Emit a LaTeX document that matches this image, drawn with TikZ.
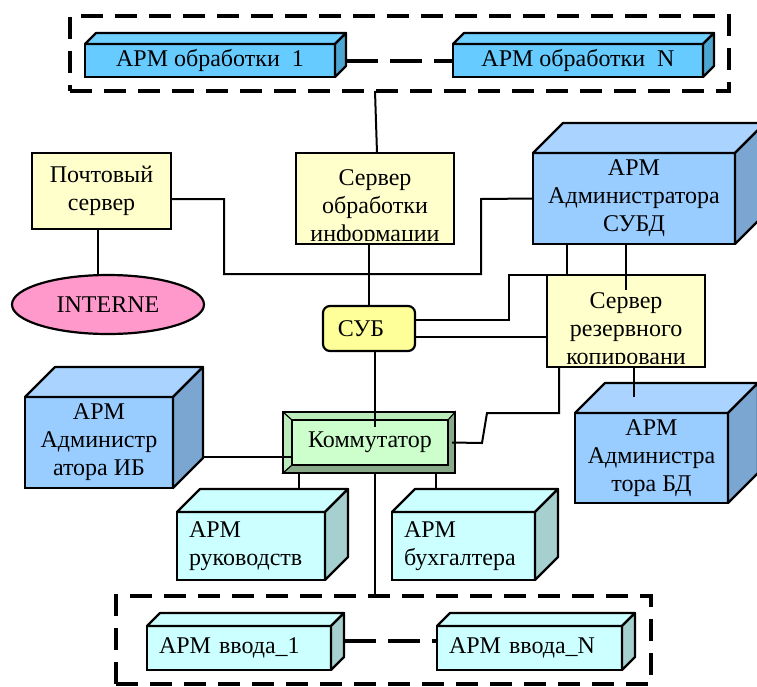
\documentclass[tikz,border=0pt]{standalone}
\usepackage{fontspec}
\setmainfont{Liberation Serif}
\usetikzlibrary{shapes.geometric,calc}
\definecolor{apfront}{HTML}{66CCFF}
\definecolor{aptop}{HTML}{70D0FF}
\definecolor{apside}{HTML}{4DA6D2}
\definecolor{bfront}{HTML}{99CCFF}
\definecolor{btop}{HTML}{AAD4FF}
\definecolor{bside}{HTML}{7AA6D1}
\definecolor{cfront}{HTML}{CCFFFF}
\definecolor{ctop}{HTML}{CCFFFF}
\definecolor{cside}{HTML}{A6CFCF}
\definecolor{srvyel}{HTML}{FFFFCC}
\definecolor{subyel}{HTML}{FFFF99}
\definecolor{inetpink}{HTML}{FF99CC}
\definecolor{kommlight}{HTML}{BBEBBB}
\definecolor{kommdark}{HTML}{88AA88}
\definecolor{kommin}{HTML}{CCFFCC}
\newcommand{\cubefaces}[4]{%
  \filldraw[facestyle, fill=#3] (#1.north west) -- ++(#2,-#2) -- ([shift={(#2,-#2)}]#1.north east) -- (#1.north east) -- cycle;
  \filldraw[facestyle, fill=#4] (#1.north east) -- ++(#2,-#2) -- ([shift={(#2,-#2)}]#1.south east) -- (#1.south east) -- cycle;
}
\tikzset{
  every node/.style={font=\fontsize{24}{28}\selectfont},
  box/.style={draw, line width=2.2pt, inner sep=0pt, outer sep=0pt, align=center},
  lbox/.style={box, align=left, inner xsep=12pt},
  facestyle/.style={line width=2.2pt, line join=round},
  conn/.style={line width=2pt},
  dashframe/.style={draw, line width=3.5pt, dash pattern=on 22pt off 12pt, inner sep=0pt, outer sep=0pt},
  dashconn/.style={line width=4pt, dash pattern=on 32pt off 12pt}
}
\begin{document}
\begin{tikzpicture}[x=1pt,y=-1pt]
\useasboundingbox (0,0) rectangle (757,686);
\clip (0,0) rectangle (757,686);

% ---------- top group ----------
\node[dashframe, minimum width=659, minimum height=75] (topF) at (399.5,53.5) {};
\node[box, fill=apfront, minimum width=250, minimum height=33] (ap1) at (210,60.5) {АРМ обработки~ 1};
\cubefaces{ap1}{11}{aptop}{apside}
\node[box, fill=apfront, minimum width=250, minimum height=33] (apN) at (578,60.5) {АРМ обработки~ N};
\cubefaces{apN}{11}{aptop}{apside}

% ---------- servers ----------
\node[box, fill=srvyel, minimum width=158, minimum height=91] (srvO) at (375,198.5) {};
\begin{scope}
  \clip ([shift={(3,3)}]srvO.north west) rectangle ([shift={(-3,-4)}]srvO.south east);
  \node[align=center, anchor=base, inner sep=0pt] (srvOt) at (375,241) {Сервер\\обработки\\информации};
\end{scope}

\node[box, fill=srvyel, minimum width=139, minimum height=76] (pochta) at (101.5,191) {Почтовый\\сервер};
\node[draw, ellipse, line width=2.2pt, fill=inetpink, minimum width=192, minimum height=59, inner sep=0pt, outer sep=0pt] (inet) at (108,304.5) {INTERNE};

\node[box, fill=bfront, minimum width=202, minimum height=91] (armS) at (634,198.5) {АРМ\\Администратора\\СУБД};
\cubefaces{armS}{30}{btop}{bside}

\node[box, fill=srvyel, minimum width=158, minimum height=92] (srvR) at (626,321) {};
\begin{scope}
  \clip ([shift={(3,3)}]srvR.north west) rectangle ([shift={(-3,-4)}]srvR.south east);
  \node[align=center, anchor=base, inner sep=0pt] (srvRt) at (626,364) {Сервер\\резервного\\копировани};
\end{scope}

\node[box, fill=subyel, rounded corners=7pt, minimum width=92, minimum height=45] (sub) at (369,328.5) {\hspace*{-16pt}СУБ};

% ---------- middle ----------
\node[box, fill=bfront, minimum width=148, minimum height=91] (armIB) at (99,442.5) {АРМ\\Администр\\атора ИБ};
\cubefaces{armIB}{30}{btop}{bside}

\node[box, fill=bfront, minimum width=153, minimum height=90] (armBD) at (651.5,458) {АРМ\\Администра\\тора БД};
\cubefaces{armBD}{30}{btop}{bside}

% switch
\node[box, fill=kommlight, minimum width=172, minimum height=61] (komm) at (369,442.5) {};
\filldraw[fill=kommdark, line width=1.2pt]
  (komm.south west) -- (komm.south east) -- (komm.north east) -- ([shift={(-7,8)}]komm.north east)
  -- ([shift={(-7,-8)}]komm.south east) -- ([shift={(9,-8)}]komm.south west) -- cycle;
\draw[line width=1.2pt] (komm.north west) -- ([shift={(9,8)}]komm.north west);
\node[draw, line width=2pt, fill=kommin, inner sep=0pt, outer sep=0pt, minimum width=156, minimum height=45] (kommi) at (370,442.5) {Коммутатор};
\draw[line width=2.5pt] (komm.south west) rectangle (komm.north east);

\node[lbox, fill=cfront, minimum width=148, minimum height=68, text width=124] (ruk) at (251,546) {АРМ\\руководств};
\cubefaces{ruk}{23}{ctop}{cside}
\node[lbox, fill=cfront, minimum width=143, minimum height=68, text width=119] (buh) at (463.5,546) {АРМ\\бухгалтера};
\cubefaces{buh}{23}{ctop}{cside}

% ---------- bottom group ----------
\node[dashframe, minimum width=535, minimum height=88] (botF) at (383.5,640) {};
\node[lbox, fill=cfront, minimum width=184, minimum height=44, text width=160] (vv1) at (239,648) {АРМ ввода\_1};
\cubefaces{vv1}{13}{ctop}{cside}
\node[lbox, fill=cfront, minimum width=185, minimum height=44, text width=161] (vvN) at (529.5,648) {АРМ ввода\_N};
\cubefaces{vvN}{13}{ctop}{cside}

% ---------- connectors ----------
\coordinate (ibc) at ([shift={(30,14.5)}]armIB.east);
\coordinate (v1c) at ([shift={(13,-7)}]vv1.east);
\coordinate (vNc) at ([yshift=7pt]vvN.west);
\draw[dashconn] ([xshift=11pt]ap1.east) -- (apN.west);
\draw[dashconn] (v1c) -- (vNc);

\draw[conn] (srvO.north |- topF.south) -- ([xshift=2pt]srvO.north);
\draw[conn] (sub.north) -- (sub.north |- srvO.south);
\draw[conn] ([xshift=-3.5pt]pochta.south) -- ([xshift=-3.5pt]pochta.south |- inet.north);
\draw[conn] ([yshift=-8pt]pochta.east) -- (224,199) -- (224,274) -- (481,274) -- (481,199) -- (armS.west);
\draw[conn] ([yshift=8.5pt]sub.east) -- ++(94,0) |- (srvR.north west);
\draw[conn] ([yshift=-8.5pt]sub.east) -- ([yshift=-8.5pt]sub.east -| srvR.west);
\draw[conn] ([xshift=20pt]srvR.north west) -- ([xshift=20pt]srvR.north west |- armS.south);
\draw[conn] ([xshift=93pt]armS.south west) -- ++(0,46);
\draw[conn] ([xshift=12pt]srvR.south west) -- ++(0,46) -- (487,413) -- (482,443) -- ([xshift=-3pt]komm.east);
\draw[conn] ([xshift=8pt]srvR.south) -- ++(0,30);
\draw[conn] (ibc) -- (ibc -| kommi.west);
\draw[conn] ([xshift=6pt]sub.south) -- ([xshift=6pt]sub.south |- kommi.north) -- ++(0,7);
\draw[conn] ([xshift=6pt]komm.south) -- ([xshift=6pt]komm.south |- botF.north);
\draw[conn] ([xshift=16pt]komm.south west) -- ++(0,15);
\draw[conn] ([xshift=-19pt]komm.south east) -- ++(0,15);
\end{tikzpicture}
\end{document}
